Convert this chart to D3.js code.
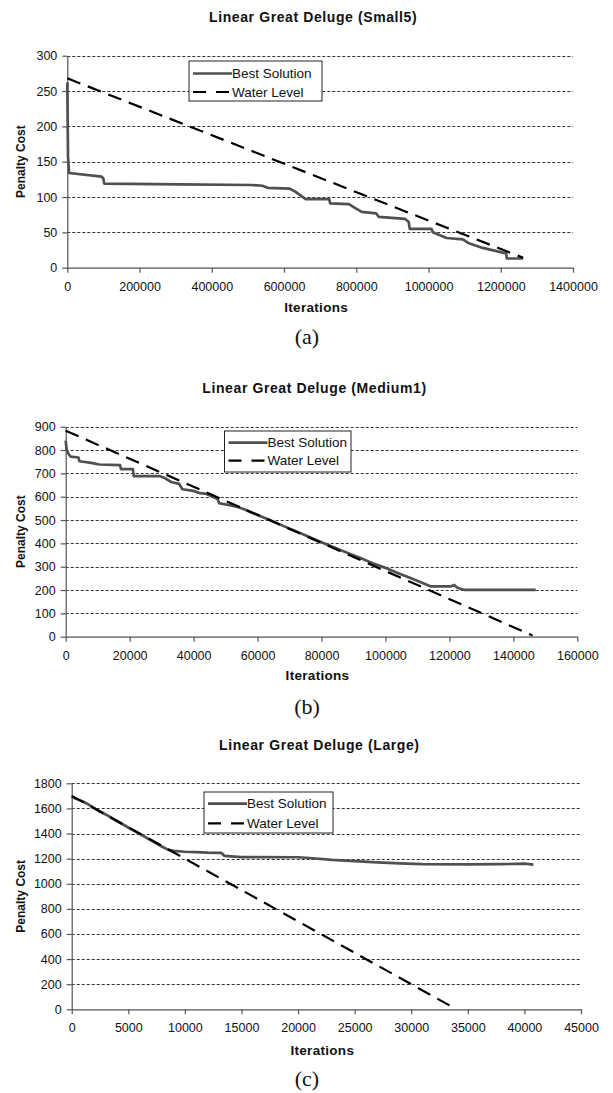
<!DOCTYPE html>
<html>
<head>
<meta charset="utf-8">
<script src="https://cdn.jsdelivr.net/npm/d3@7"></script>
<style>
  body { margin: 0; background: #fff; }
  svg { display: block; font-family: "Liberation Sans", Arial, sans-serif; }
  .grid line { stroke: #333; stroke-width: 1; stroke-dasharray: 3,2; }
  .axis path, .axis line { stroke: #555; stroke-width: 1.2; }
  .axis text { fill: #111; font-size: 12.5px; font-family: "Liberation Sans", Arial, sans-serif; }
  .title, .xLabel, .yLabel { font-weight: bold; fill: #111; }
  .best { fill: none; stroke: #505050; stroke-width: 2.7; stroke-linejoin: round; }
  .water { fill: none; stroke: #000; stroke-width: 2.2; stroke-dasharray: 14,8; }
  .caption { font-family: "Liberation Serif", "DejaVu Serif", serif; font-size: 22px; fill: #111; }
</style>
</head>
<body>
<svg id="chart" width="613" height="1093"></svg>
<script>
/* ==== Data ==== */
var seriesNames = ["Best Solution", "Water Level"];

// (a) Small5
var smallXTicks = [0, 200000, 400000, 600000, 800000, 1000000, 1200000, 1400000];
var smallYTicks = [0, 50, 100, 150, 200, 250, 300];
var smallBest = [
  [0, 262], [2000, 157], [5000, 134], [95000, 129], [100000, 126], [102000, 119],
  [310000, 118], [510000, 117], [540000, 116], [555000, 113], [615000, 112],
  [630000, 108], [660000, 97], [725000, 97], [728000, 91], [780000, 90],
  [795000, 85], [815000, 79], [855000, 77], [862000, 72], [935000, 69],
  [945000, 65], [948000, 55], [1008000, 55], [1012000, 50], [1050000, 42],
  [1095000, 40], [1110000, 35], [1150000, 28], [1200000, 22], [1215000, 20],
  [1217000, 13], [1262000, 13]
];
var smallWater = [[0, 268], [1262000, 14]];

// (b) Medium1
var mediumXTicks = [0, 20000, 40000, 60000, 80000, 100000, 120000, 140000, 160000];
var mediumYTicks = [0, 100, 200, 300, 400, 500, 600, 700, 800, 900];
var mediumBest = [
  [0, 840], [300, 800], [800, 785], [1500, 772], [4000, 768], [4300, 752],
  [8000, 745], [10500, 738], [17000, 735], [17300, 718], [21000, 718],
  [21300, 688], [29500, 688], [31000, 680], [33000, 663], [35500, 655],
  [36500, 632], [40000, 625], [42000, 615], [44000, 612], [46000, 600],
  [47500, 590], [48000, 572], [52000, 562], [54000, 555], [56000, 545],
  [58000, 532], [60000, 522], [64000, 499], [68000, 475], [72000, 452],
  [76000, 428], [80000, 405], [84000, 382], [88000, 360], [92000, 338],
  [96000, 315], [100000, 295], [104000, 272], [108000, 250], [112000, 228],
  [114000, 216], [120500, 216], [121500, 222], [122500, 210], [124500, 201],
  [147000, 201]
];
var mediumWater = [[0, 883], [146000, 5]];

// (c) Large
var largeXTicks = [0, 5000, 10000, 15000, 20000, 25000, 30000, 35000, 40000, 45000];
var largeYTicks = [0, 200, 400, 600, 800, 1000, 1200, 1400, 1600, 1800];
var largeBest = [
  [0, 1690], [500, 1672], [1000, 1655], [1500, 1630], [2500, 1575], [3000, 1552],
  [4000, 1500], [5000, 1448], [6000, 1398], [7000, 1345], [8000, 1295],
  [8500, 1272], [9000, 1262], [10000, 1255], [11000, 1252], [12000, 1248],
  [13200, 1246], [13500, 1222], [15000, 1212], [20000, 1211], [21000, 1205],
  [23000, 1190], [25000, 1180], [27000, 1170], [29000, 1162], [31000, 1157],
  [35000, 1155], [38000, 1156], [40000, 1160], [40800, 1152]
];
var largeWater = [[0, 1700], [34000, 0]];

/* ==== Layout ==== */
function translate(x, y) { return "translate(" + x + "," + y + ")"; }
var svg = d3.select("#chart");

var panels = [
  { title: "Linear Great Deluge (Small5)", caption: "(a)",
    xTicks: smallXTicks, yTicks: smallYTicks, best: smallBest, water: smallWater,
    left: 67.3, right: 573, top: 55.7, bottom: 267.7,
    titleY: 22, xLabelY: 312, captionY: 344,
    legend: { x: 189, y: 61, w: 133, h: 40, r1: 12.5, r2: 31 } },
  { title: "Linear Great Deluge (Medium1)", caption: "(b)",
    xTicks: mediumXTicks, yTicks: mediumYTicks, best: mediumBest, water: mediumWater,
    left: 65.7, right: 577.3, top: 426.7, bottom: 636.7,
    titleY: 393, xLabelY: 680, captionY: 714,
    legend: { x: 224.5, y: 431, w: 126.5, h: 41, r1: 11.7, r2: 29.7 } },
  { title: "Linear Great Deluge (Large)", caption: "(c)",
    xTicks: largeXTicks, yTicks: largeYTicks, best: largeBest, water: largeWater,
    left: 71.7, right: 581, top: 783.3, bottom: 1009.3,
    titleY: 750, xLabelY: 1055, captionY: 1086,
    legend: { x: 204, y: 792, w: 129, h: 41, r1: 11.6, r2: 31.4 } }
];

panels.forEach(drawPanel);

function drawPanel(p) {
  var xMax = p.xTicks[p.xTicks.length - 1];
  var yMax = p.yTicks[p.yTicks.length - 1];
  var x = d3.scaleLinear().domain([0, xMax]).range([p.left, p.right]);
  var y = d3.scaleLinear().domain([0, yMax]).range([p.bottom, p.top]);
  var g = svg.append("g").attr("class", "panel");

  // title
  g.append("text").attr("class", "title")
   .attr("x", (p.left + p.right) / 2 - 7).attr("y", p.titleY)
   .attr("text-anchor", "middle").attr("font-size", 14)
   .attr("letter-spacing", 0.6).text(p.title);

  // gridlines
  g.append("g").attr("class", "grid")
   .selectAll("line").data(p.yTicks.slice(1)).enter().append("line")
   .attr("x1", p.left).attr("x2", p.right)
   .attr("y1", d => Math.round(y(d)) + 0.5).attr("y2", d => Math.round(y(d)) + 0.5);

  // axes
  g.append("g").attr("class", "axis")
   .attr("transform", translate(0, p.bottom))
   .call(d3.axisBottom(x).tickValues(p.xTicks).tickSize(5).tickSizeOuter(0)
           .tickPadding(9).tickFormat(d3.format("d")))
   .attr("font-size", null).attr("font-family", null);

  g.append("g").attr("class", "axis")
   .attr("transform", translate(p.left, 0))
   .call(d3.axisLeft(y).tickValues(p.yTicks).tickSize(5).tickSizeOuter(0)
           .tickPadding(5).tickFormat(d3.format("d")))
   .attr("font-size", null).attr("font-family", null);

  // axis labels
  g.append("text").attr("class", "xLabel")
   .attr("x", (p.left + p.right) / 2 - 4).attr("y", p.xLabelY)
   .attr("text-anchor", "middle").attr("font-size", 13.5)
   .attr("letter-spacing", 0.3).text("Iterations");

  g.append("text").attr("class", "yLabel")
   .attr("transform", translate(25, (p.top + p.bottom) / 2) + " rotate(-90)")
   .attr("text-anchor", "middle").attr("font-size", 12).text("Penalty Cost");

  // series
  var line = d3.line().x(d => x(d[0])).y(d => y(d[1]));
  g.append("path").attr("class", "best").attr("d", line(p.best));
  g.append("path").attr("class", "water").attr("d", line(p.water));

  // legend
  var L = p.legend;
  var lg = g.append("g").attr("class", "legend").attr("transform", translate(L.x, L.y));
  lg.append("rect").attr("width", L.w).attr("height", L.h)
    .attr("fill", "#fff").attr("stroke", "#222").attr("stroke-width", 1);
  var rows = [L.r1, L.r2];
  lg.selectAll("line.sample").data(seriesNames).enter().append("line")
    .attr("class", (d, i) => "sample " + (i == 0 ? "best" : "water"))
    .attr("x1", 4).attr("x2", 43)
    .attr("y1", (d, i) => rows[i]).attr("y2", (d, i) => rows[i])
    .style("stroke-dasharray", (d, i) => i == 0 ? null : "13,10");
  lg.selectAll("text").data(seriesNames).enter().append("text")
    .attr("x", 43).attr("y", (d, i) => rows[i]).attr("dy", "0.35em")
    .attr("font-size", 13.5).attr("fill", "#111").text(d => d);

  // caption
  g.append("text").attr("class", "caption")
   .attr("x", 307).attr("y", p.captionY).attr("text-anchor", "middle").text(p.caption);
}
</script>
</body>
</html>
